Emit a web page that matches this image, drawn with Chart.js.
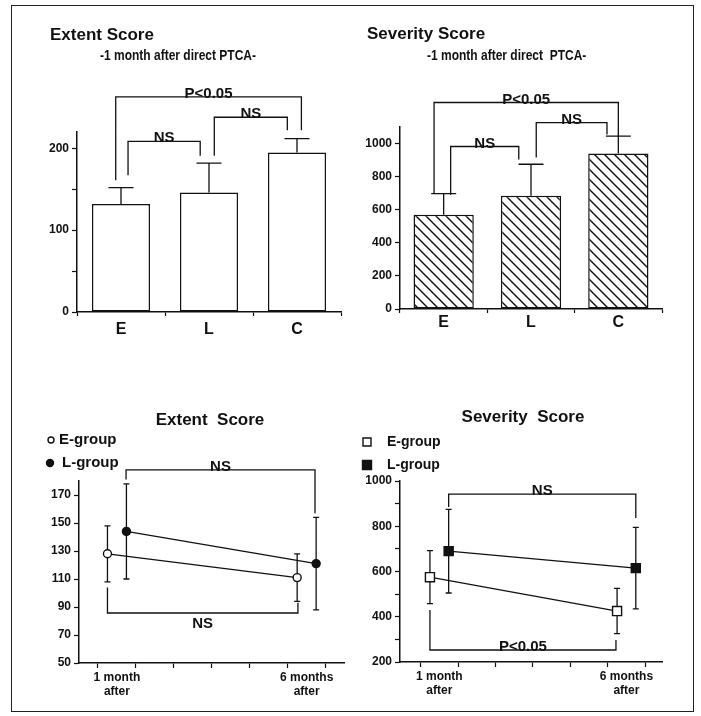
<!DOCTYPE html>
<html>
<head>
<meta charset="UTF-8">
<title>Extent and Severity Score after direct PTCA</title>
<script src="https://cdn.jsdelivr.net/npm/chart.js@4.4.0/dist/chart.umd.min.js"></script>
<style>
  body { margin: 0; background: #fff; width: 701px; height: 716px; position: relative; overflow: hidden;
         font-family: "Liberation Sans", Arial, Helvetica, sans-serif; color: #111; }
  #frame { position: absolute; left: 11px; top: 5px; width: 683px; height: 707px; border: 1.5px solid #222; box-sizing: border-box; }
  canvas { position: absolute; }
  .t { position: absolute; font-weight: bold; white-space: pre; line-height: 16px; }
  .big { font-size: 17px; }
  .sub { font-size: 15px; transform: scaleX(0.8); transform-origin: left center; }
</style>
</head>
<body>
<div id="frame"></div>
<canvas id="c1" width="338" height="360" style="left:12px;top:0"></canvas>
<canvas id="c2" width="342" height="360" style="left:350px;top:0"></canvas>
<canvas id="c3" width="338" height="345" style="left:12px;top:360px"></canvas>
<canvas id="c4" width="342" height="345" style="left:350px;top:360px"></canvas>

<div class="t big" style="left:50px;top:27px">Extent Score</div>
<div class="t sub" style="left:100px;top:47px">-1 month after direct PTCA-</div>
<div class="t big" style="left:367px;top:26px">Severity Score</div>
<div class="t sub" style="left:427px;top:47px">-1 month after direct  PTCA-</div>
<div class="t big" style="left:110px;top:412px;width:200px;text-align:center">Extent  Score</div>
<div class="t big" style="left:423px;top:409px;width:200px;text-align:center">Severity  Score</div>

<script>
// top panels: 1 month after direct PTCA, mean and SD per group
const groups = ['E', 'L', 'C'];
const extentMean = [132, 146, 195];
const extentSD = [20, 36, 17];
const severityMean = [570, 685, 940];
const severitySD = [127, 190, 105];

// bottom panels: follow-up
const periods = [1, 6];
const periodLabels = [['1 month', 'after'], ['6 months', 'after']];
const tickMonths = [0.5, 1.5, 2.5, 3.5, 4.5, 5.5, 6.5];
const extentE = [128, 111];
const extentESD = [20, 17];
const extentL = [144, 121];
const extentLSD = [34, 33];
const severityE = [575, 425];
const severityESD = [117, 100];
const severityL = [690, 615];
const severityLSD = [185, 180];

const INK = '#111';
const FONT = '"Liberation Sans", Arial, Helvetica, sans-serif';
Chart.defaults.font.family = FONT;
Chart.defaults.color = INK;

function hatch() {
    const c = document.createElement('canvas');
    c.width = 10; c.height = 10;
    const g = c.getContext('2d');
    g.fillStyle = '#fff';
    g.fillRect(0, 0, 10, 10);
    g.strokeStyle = INK;
    g.lineWidth = 1.4;
    g.beginPath();
    g.moveTo(-1, -1); g.lineTo(11, 11);
    g.moveTo(-1, 9); g.lineTo(1, 11);
    g.moveTo(9, -1); g.lineTo(11, 1);
    g.stroke();
    return g.createPattern(c, 'repeat');
}

// SD whiskers, drawn under the markers
const errorBars = {
    id: 'errorBars',
    beforeDatasetsDraw(chart) {
        const ctx = chart.ctx, ys = chart.scales.y;
        chart.data.datasets.forEach((ds, i) => {
            if (!ds.sd) return;
            const meta = chart.getDatasetMeta(i);
            ctx.save();
            ctx.strokeStyle = INK;
            ctx.lineWidth = 1.3;
            meta.data.forEach((el, j) => {
                const raw = ds.data[j];
                const v = typeof raw === 'object' ? raw.y : raw;
                const top = ys.getPixelForValue(v + ds.sd[j]);
                const bot = ys.getPixelForValue(ds.both ? v - ds.sd[j] : v);
                const c = ds.cap;
                ctx.beginPath();
                ctx.moveTo(el.x, bot); ctx.lineTo(el.x, top);
                ctx.moveTo(el.x - c, top); ctx.lineTo(el.x + c, top);
                if (ds.both) { ctx.moveTo(el.x - c, bot); ctx.lineTo(el.x + c, bot); }
                ctx.stroke();
            });
            ctx.restore();
        });
    }
};

// significance brackets and the hand-made legends
const notes = {
    id: 'notes',
    afterDraw(chart, args, opts) {
        const ctx = chart.ctx, xs = chart.scales.x, ys = chart.scales.y;
        ctx.save();
        ctx.strokeStyle = INK;
        ctx.fillStyle = INK;
        ctx.lineWidth = 1.3;
        ctx.font = 'bold 15px ' + FONT;
        ctx.textAlign = 'center';
        (opts.brackets || []).forEach(b => {
            const x1 = xs.getPixelForValue(b.x1), x2 = xs.getPixelForValue(b.x2);
            const yy = ys.getPixelForValue(b.y);
            ctx.beginPath();
            ctx.moveTo(x1, ys.getPixelForValue(b.l1));
            ctx.lineTo(x1, yy);
            ctx.lineTo(x2, yy);
            ctx.lineTo(x2, ys.getPixelForValue(b.l2));
            ctx.stroke();
            if (b.below) {
                ctx.textBaseline = 'top';
                ctx.fillText(b.label, (x1 + x2) / 2, yy + 3);
            } else {
                ctx.textBaseline = 'alphabetic';
                ctx.fillText(b.label, (x1 + x2) / 2, yy + 1);
            }
        });
        (opts.legend || []).forEach(it => {
            ctx.beginPath();
            if (it.shape === 'circle') ctx.arc(it.x, it.y, it.r, 0, Math.PI * 2);
            else ctx.rect(it.x - it.r, it.y - it.r, it.r * 2, it.r * 2);
            ctx.fillStyle = it.filled ? INK : '#fff';
            ctx.fill();
            ctx.lineWidth = 1.4;
            ctx.stroke();
            ctx.fillStyle = INK;
            ctx.font = 'bold ' + it.size + 'px ' + FONT;
            ctx.textAlign = 'left';
            ctx.textBaseline = 'middle';
            ctx.fillText(it.text, it.tx, it.y);
        });
        ctx.restore();
    }
};

function yAxis(min, max, step, every, base, width) {
    return {
        min: min, max: max,
        afterFit: s => { s.width = width; },
        ticks: { stepSize: step, includeBounds: false, padding: 3, color: INK,
                 font: { size: 12, weight: 'bold' },
                 callback: v => ((v - base) % every === 0 ? v : '') },
        grid: { drawOnChartArea: false, tickLength: 5, tickWidth: 1.2, tickColor: INK },
        border: { color: INK, width: 1.5 }
    };
}

function barChart(id, means, sds, fill, max, step, every, pad, barPct, labelPad, brackets) {
    new Chart(document.getElementById(id), {
        type: 'bar',
        data: {
            labels: groups,
            datasets: [{
                data: means, sd: sds, cap: 12.5,
                backgroundColor: fill, borderColor: INK, borderWidth: 1.5, borderSkipped: false,
                categoryPercentage: 1, barPercentage: barPct
            }]
        },
        options: {
            responsive: false, animation: false,
            layout: { padding: pad },
            plugins: { legend: { display: false }, tooltip: { enabled: false }, notes: { brackets: brackets } },
            scales: {
                x: {
                    afterFit: s => { s.height = pad.h; },
                    ticks: { color: INK, padding: labelPad, font: { size: 16, weight: 'bold' } },
                    grid: { drawOnChartArea: false, tickLength: 4, tickWidth: 1.2, tickColor: INK },
                    border: { color: INK, width: 1.5 }
                },
                y: yAxis(0, max, step, every, 0, pad.w)
            }
        },
        plugins: [errorBars, notes]
    });
}

function lineChart(id, eVals, eSD, lVals, lSD, shape, radius, xmin, ymin, ymax, step, every, pad, brackets, legend) {
    const pts = (vals, dx) => vals.map((v, i) => ({ x: periods[i] + dx, y: v }));
    const base = { borderColor: INK, borderWidth: 1.3, pointStyle: shape, pointRadius: radius,
                   pointBorderColor: INK, pointBorderWidth: 1.4, both: true, cap: 3, tension: 0, fill: false };
    new Chart(document.getElementById(id), {
        type: 'line',
        data: {
            datasets: [
                Object.assign({ label: 'E-group', data: pts(eVals, -0.25), sd: eSD, pointBackgroundColor: '#fff' }, base),
                Object.assign({ label: 'L-group', data: pts(lVals, 0.25), sd: lSD, pointBackgroundColor: INK }, base)
            ]
        },
        options: {
            responsive: false, animation: false,
            layout: { padding: pad },
            plugins: { legend: { display: false }, tooltip: { enabled: false },
                       notes: { brackets: brackets, legend: legend } },
            scales: {
                x: {
                    type: 'linear', min: xmin, max: xmin + 7,
                    afterFit: s => { s.height = pad.h; },
                    afterBuildTicks: s => {
                        s.ticks = tickMonths.concat(periods).sort((a, b) => a - b).map(v => ({ value: v }));
                    },
                    ticks: {
                        autoSkip: false, maxRotation: 0, padding: 2, color: INK,
                        font: { size: 12, weight: 'bold', lineHeight: 1.2 },
                        callback: v => { const k = periods.indexOf(v); return k >= 0 ? periodLabels[k] : ''; }
                    },
                    grid: { drawOnChartArea: false, tickLength: 5, tickWidth: 1.2,
                            tickColor: c => (c.tick && periods.includes(c.tick.value) ? 'rgba(0,0,0,0)' : INK) },
                    border: { color: INK, width: 1.5 }
                },
                y: yAxis(ymin, ymax, step, every, ymin, pad.w)
            }
        },
        plugins: [errorBars, notes]
    });
}

barChart('c1', extentMean, extentSD, '#fff', 220, 50, 100,
    { top: 132, right: 9, bottom: 0, left: 0, w: 65, h: 48 }, 0.66, 4, [
        { x1: -0.06, x2: 2.05, y: 263, l1: 161, l2: 222, label: 'P<0.05' },
        { x1: 0.08, x2: 0.9, y: 208.5, l1: 167, l2: 191, label: 'NS' },
        { x1: 1.06, x2: 1.89, y: 238, l1: 191, l2: 222, label: 'NS' }
    ]);

barChart('c2', severityMean, severitySD, hatch(), 1100, 100, 200,
    { top: 127, right: 30, bottom: 0, left: 0, w: 50, h: 51 }, 0.69, 0, [
        { x1: -0.11, x2: 2.0, y: 1248, l1: 697, l2: 1042, label: 'P<0.05' },
        { x1: 0.08, x2: 0.86, y: 982, l1: 690, l2: 903, label: 'NS' },
        { x1: 1.06, x2: 1.87, y: 1127, l1: 915, l2: 1055, label: 'NS' }
    ]);

lineChart('c3', extentE, extentESD, extentL, extentLSD, 'circle', 4, 0, 50, 180, 10, 20,
    { top: 121, right: 1, bottom: 0, left: 0, w: 67, h: 42 }, [
        { x1: 1.24, x2: 6.22, y: 188, l1: 181, l2: 157, label: 'NS' },
        { x1: 0.75, x2: 5.77, y: 85.7, l1: 104, l2: 93, label: 'NS', below: true }
    ], [
        { shape: 'circle', filled: false, x: 39, y: 80, r: 3, text: 'E-group', tx: 47, size: 15 },
        { shape: 'circle', filled: true, x: 38, y: 103, r: 3.5, text: 'L-group', tx: 50, size: 15 }
    ]);

lineChart('c4', severityE, severityESD, severityL, severityLSD, 'rect', 6.4, -0.05, 200, 1000, 100, 200,
    { top: 121, right: 30, bottom: 0, left: 0, w: 50, h: 43 }, [
        { x1: 1.25, x2: 6.25, y: 942, l1: 885, l2: 836, label: 'NS' },
        { x1: 0.75, x2: 5.72, y: 253, l1: 430, l2: 297, label: 'P<0.05' }
    ], [
        { shape: 'rect', filled: false, x: 17, y: 82, r: 4, text: 'E-group', tx: 37, size: 14 },
        { shape: 'rect', filled: true, x: 17, y: 105, r: 4.5, text: 'L-group', tx: 37, size: 14 }
    ]);
</script>
</body>
</html>
